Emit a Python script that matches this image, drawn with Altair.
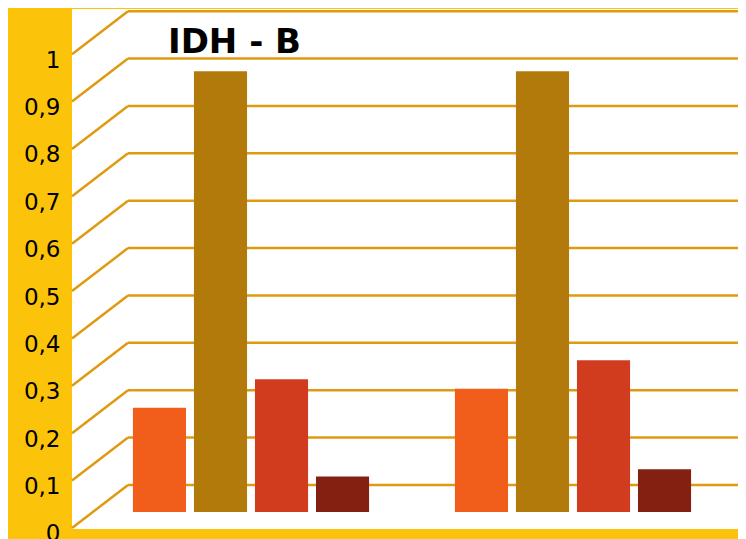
import altair as alt
import pandas as pd

# ---- data ----
groups = ["A", "B"]
series = ["S1", "S2", "S3", "S4"]
values_a = [0.22, 0.93, 0.28, 0.075]
values_b = [0.26, 0.93, 0.32, 0.09]
ticks = [0, 0.1, 0.2, 0.3, 0.4, 0.5, 0.6, 0.7, 0.8, 0.9, 1]
bar_colors = ["#F15E1C", "#B27A0A", "#D13C1F", "#832012"]
title_text = "IDH - B"

rows = []
for g, vals in zip(groups, [values_a, values_b]):
    for s, v in zip(series, vals):
        rows.append({"g": g, "s": s, "v": v})
bars_df = pd.DataFrame(rows)
grid_df = pd.DataFrame({"v": ticks})

W, H = 666, 520
GRID = "#DF9A12"
LABEL_FONT = "DejaVu Sans"

grid_scale = alt.Scale(domain=[-0.0929, 1.0047], nice=False, zero=False)
bar_scale = alt.Scale(domain=[-0.0359, 1.0611], nice=False, zero=False)

axis_y = alt.Axis(
    values=ticks, format="~g", labelExpr="replace(datum.label, '.', ',')",
    labelOffset=49, labelPadding=12, domain=False, ticks=False, grid=False,
    labelFontSize=23, labelFont=LABEL_FONT, labelColor="black",
    labelBaseline="middle", title=None,
)

back = alt.Chart(grid_df).mark_rule(color=GRID, strokeWidth=2.5).encode(
    y=alt.Y("v:Q", scale=grid_scale, axis=axis_y),
    x=alt.value(56), x2=alt.value(W),
)

diag = alt.Chart(grid_df).mark_rule(color=GRID, strokeWidth=2.5, y2Offset=43).encode(
    y=alt.Y("v:Q", scale=grid_scale, axis=axis_y),
    y2=alt.Y2("v:Q"),
    x=alt.value(56), x2=alt.value(0),
)

bars = alt.Chart(bars_df).mark_bar().encode(
    x=alt.X("g:N", sort=groups, axis=None,
            scale=alt.Scale(range=[3, 677], paddingInner=0.242, paddingOuter=0.1676)),
    xOffset=alt.XOffset("s:N", sort=series,
                        scale=alt.Scale(paddingInner=0.13, paddingOuter=0.065)),
    y=alt.Y("v:Q", scale=bar_scale, axis=None, stack=None),
    color=alt.Color("s:N", sort=series, legend=None,
                    scale=alt.Scale(domain=series, range=bar_colors)),
)

title = alt.Chart(pd.DataFrame({"t": [title_text]})).mark_text(
    font=LABEL_FONT, fontSize=34, fontWeight="bold", color="black",
    align="left", baseline="alphabetic",
).encode(text="t:N", x=alt.value(96), y=alt.value(44))

grid_layer = alt.layer(back, diag)

chart = alt.layer(grid_layer, bars, title).resolve_scale(y="independent").properties(
    width=W, height=H,
    autosize=alt.AutoSizeParams(type="none"),
    padding={"left": 64, "top": 1, "right": 0, "bottom": 10},
    background="#FBC40A",
).configure_view(fill="white", stroke=None)

chart.save("out.html", embed_options={"renderer": "svg", "actions": False})
